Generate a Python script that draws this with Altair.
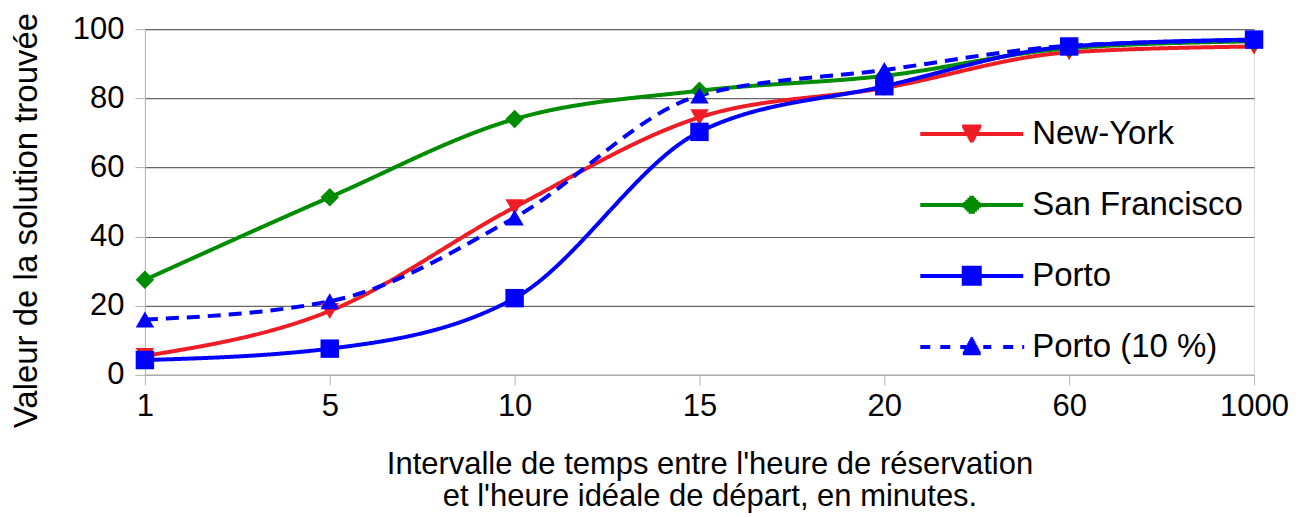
import altair as alt
import pandas as pd

categories = ["1", "5", "10", "15", "20", "60", "1000"]
series_names = ["New-York", "San Francisco", "Porto", "Porto (10 %)"]
new_york = [5.5, 18.5, 48.5, 74.5, 83.0, 93.3, 95.0]
san_francisco = [27.5, 51.4, 74.0, 82.2, 86.5, 94.5, 96.5]
porto = [4.3, 7.6, 22.2, 70.3, 83.5, 95.0, 97.0]
porto_10 = [16.0, 21.3, 45.5, 80.8, 88.2, 95.2, 96.8]
y_ticks = [0, 20, 40, 60, 80, 100]

colors = ["#ee1c25", "#008c00", "#0000ff", "#0000ff"]
marker_shapes = ["triangle-down", "diamond", "square", "triangle-up"]
dashes = [[1, 0], [1, 0], [1, 0], [13, 8]]


# ---- legend symbol glyphs (line + solid marker drawn with strokes only) ----
def hatch(cx, y0, y1, halfwidth):
    segs = []
    y = y0 + 0.09
    while y <= y1 - 0.09 + 1e-9:
        w = halfwidth(y)
        if w > 0.02:
            segs.append(f"M{cx - w:.3f},{y:.3f}L{cx + w:.3f},{y:.3f}")
        y += 0.1
    return "".join(segs)


CX = -1.575
SOLID = "M-4.15,0L1,0"
DASHED = "M-4.15,0L-3.65,0M-3.15,0L-2.65,0M-2.15,0L-1.65,0M-1.0,0L-0.6,0M0,0L0.5,0M0.95,0L1.05,0"
legend_paths = [
    SOLID + hatch(CX, -0.47, 0.47, lambda y: 0.5 * (0.47 - y + 0.05) / 0.94),
    SOLID + hatch(CX, -0.46, 0.46, lambda y: 0.46 - abs(y) + 0.03),
    SOLID + hatch(CX, -0.5, 0.5, lambda y: 0.5),
    DASHED + hatch(CX, -0.47, 0.47, lambda y: 0.5 * (y + 0.47 + 0.05) / 0.94),
]

rows = []
for name, vals in zip(series_names, [new_york, san_francisco, porto, porto_10]):
    for c, v in zip(categories, vals):
        rows.append({"x": c, "y": v, "serie": name, "serie_l": name})
df = pd.DataFrame(rows)

FONT = "Liberation Sans"

x_enc = alt.X(
    "x:N",
    sort=categories,
    scale=alt.Scale(type="point", padding=0),
    axis=alt.Axis(
        title=["Intervalle de temps entre l'heure de réservation",
               "et l'heure idéale de départ, en minutes."],
        labelAngle=0,
        labelFontSize=31,
        labelFont=FONT,
        labelColor="#000000",
        labelPadding=7,
        tickSize=10,
        tickColor="#b3b3b3",
        domainColor="#b3b3b3",
        grid=False,
        titleFont=FONT,
        titleFontSize=31,
        titleFontWeight="normal",
        titleColor="#000000",
        titleLineHeight=32,
        titlePadding=28,
        titleX=565,
    ),
)
y_enc = alt.Y(
    "y:Q",
    scale=alt.Scale(domain=[0, 100], nice=False),
    axis=alt.Axis(
        title="Valeur de la solution trouvée",
        values=y_ticks,
        labelFontSize=31,
        labelFont=FONT,
        labelColor="#000000",
        labelPadding=11,
        tickSize=10,
        tickColor="#b3b3b3",
        domainColor="#b3b3b3",
        gridColor="#666666",
        gridWidth=1.2,
        titleFont=FONT,
        titleFontSize=33,
        titleFontWeight="normal",
        titleColor="#000000",
        titlePadding=29,
        titleY=191,
    ),
)


def color_scale():
    return alt.Scale(domain=series_names, range=colors)


lines = alt.Chart(df).mark_line(interpolate="monotone", strokeWidth=4).encode(
    x=x_enc,
    y=y_enc,
    color=alt.Color("serie:N", scale=color_scale(), legend=None),
    strokeDash=alt.StrokeDash("serie:N", scale=alt.Scale(domain=series_names, range=dashes), legend=None),
    detail="serie:N",
)

points = alt.Chart(df).mark_point(filled=True, size=340, opacity=1).encode(
    x=x_enc,
    y=y_enc,
    color=alt.Color("serie:N", scale=color_scale(), legend=None),
    shape=alt.Shape("serie:N", scale=alt.Scale(domain=series_names, range=marker_shapes), legend=None),
)

legend_def = alt.Legend(
    title=None,
    orient="none",
    legendX=837,
    legendY=83,
    padding=0,
    labelFontSize=33,
    labelFont=FONT,
    labelColor="#000000",
    labelLimit=400,
    labelOffset=7,
    symbolSize=1600,
    symbolStrokeWidth=4,
    symbolOpacity=1,
    rowPadding=32,
)

legend_layer = alt.Chart(df).mark_point(filled=False, size=1600, opacity=0, strokeWidth=4).encode(
    x=x_enc,
    y=y_enc,
    color=alt.Color("serie_l:N", scale=color_scale(), legend=legend_def),
    shape=alt.Shape("serie_l:N", scale=alt.Scale(domain=series_names, range=legend_paths), legend=legend_def),
)

chart = (
    alt.layer(lines, points, legend_layer)
    .resolve_scale(shape="independent", color="independent")
    .properties(width=1110, height=346, padding={"left": 2, "top": 4, "right": 5, "bottom": 5})
    .configure_view(fill="#eeeeee", stroke="#999999", strokeWidth=1)
    .configure(background="#ffffff")
)

chart.save("out.html", embed_options={"renderer": "svg", "actions": False})
